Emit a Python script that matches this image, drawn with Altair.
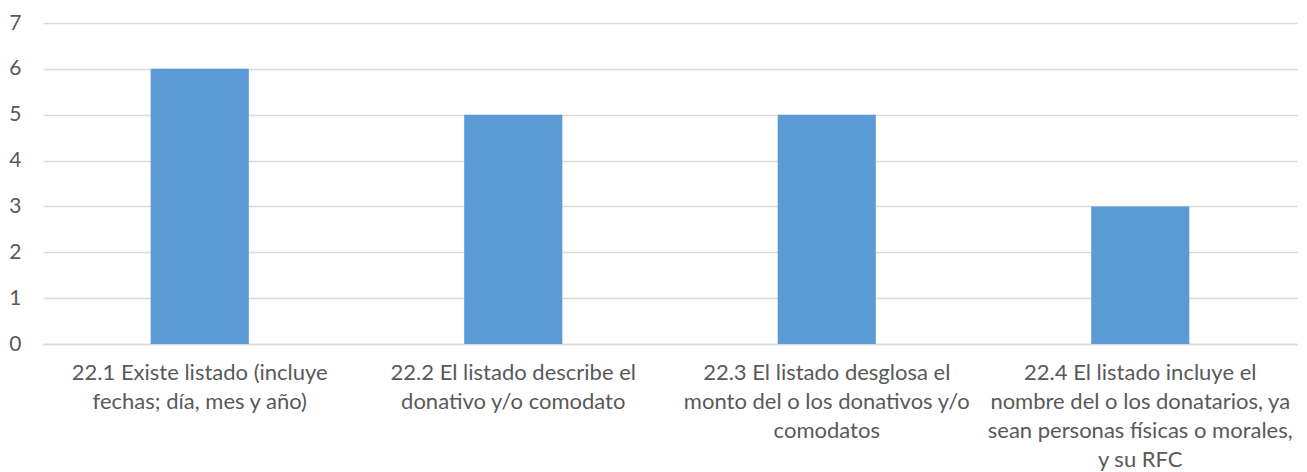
import altair as alt
import pandas as pd

categories = [
    "22.1 Existe listado (incluye|fechas; día, mes y año)",
    "22.2 El listado describe el|donativo y/o comodato",
    "22.3 El listado desglosa el|monto del o los donativos y/o|comodatos",
    "22.4 El listado incluye el|nombre del o los donatarios, ya|sean personas físicas o morales,|y su RFC",
]
values = [6, 5, 5, 3]

df = pd.DataFrame({"cat": categories, "val": values})

FONT = "Lato"
GRAY = "#595959"

chart = alt.Chart(df).mark_bar(color="#5B9BD5").encode(
    x=alt.X(
        "cat:N",
        sort=None,
        title=None,
        scale=alt.Scale(paddingInner=0.687, paddingOuter=0.3435),
        axis=alt.Axis(
            labelAngle=0,
            labelExpr="split(datum.label, '|')",
            labelLimit=0,
            labelFontSize=22,
            labelFont=FONT,
            labelColor=GRAY,
            labelLineHeight=29,
            labelPadding=18,
            labelAlign="center",
            labelBaseline="top",
            ticks=False,
            domainColor="#d9d9d9",
            domainWidth=1.5,
            grid=False,
        ),
    ),
    y=alt.Y(
        "val:Q",
        title=None,
        scale=alt.Scale(domain=[0, 7], nice=False),
        axis=alt.Axis(
            values=[0, 1, 2, 3, 4, 5, 6, 7],
            labelFontSize=21,
            labelFont=FONT,
            labelColor=GRAY,
            labelPadding=22,
            ticks=False,
            domain=False,
            gridColor="#d9d9d9",
            gridWidth=1.5,
        ),
    ),
).properties(
    width=1254,
    height=321,
    padding={"left": 35, "top": 15, "right": 2, "bottom": 150},
    autosize=alt.AutoSizeParams(type="none"),
).configure_view(stroke=None)

chart.save("out.html", embed_options={"renderer": "svg", "actions": False})
